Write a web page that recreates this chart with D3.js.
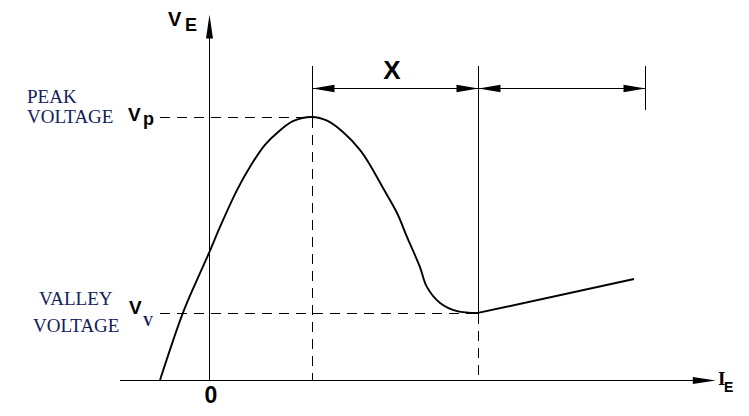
<!DOCTYPE html>
<html>
<head>
<meta charset="utf-8">
<script src="https://cdn.jsdelivr.net/npm/d3@7"></script>
<style>
  html, body { margin: 0; padding: 0; background: #fff; }
  svg { display: block; }
</style>
</head>
<body>
<svg id="chart" width="749" height="416"></svg>
<script>
// Emitter current (x) vs emitter voltage (y), arbitrary units.
// Valley current = 10, peak voltage = 10.
const curveIE = [-1.82, -0.97, -0.45, 0, 0.41, 1.04, 1.52, 2.08, 2.57, 3.12, 3.83,
  4.39, 4.98, 5.61, 5.99, 6.47, 6.99, 7.36, 7.84, 8.10, 8.59, 9.22, 10];
const curveVE = [0, 2.55, 3.80, 4.83, 5.82, 7.22, 8.10, 8.94, 9.43, 9.84, 10,
  9.86, 9.43, 8.75, 8.17, 7.30, 6.35, 5.44, 4.30, 3.54, 2.93, 2.62, 2.55];
const saturationIE = [10, 15.8];
const saturationVE = [2.55, 3.84];

const peak = { ie: 3.83, ve: 10 };
const valley = { ie: 10, ve: 2.55 };
const dimensionMarks = [3.83, 10, 16.2]; // ticks of the "X" dimension line
const dimensionLevel = 11.1;
const dimensionTop = 11.94;

const svg = d3.select('#chart');
const x = d3.scaleLinear().domain([0, 10]).range([209, 478]);
const y = d3.scaleLinear().domain([0, 10]).range([380, 117]);
const px = v => Math.round(x(v)) + 0.5;
const py = v => Math.round(y(v)) + 0.5;

const ink = '#000';
const navy = '#14205a';
const sans = "'Liberation Sans', Arial, sans-serif";
const serif = "'Liberation Serif', 'Times New Roman', serif";

// arrowhead helper: filled triangle pointing in direction (dx, dy)
const arrowHead = (tipX, tipY, dx, dy, len, half) => {
  const bx = tipX - dx * len, by = tipY - dy * len;
  const ox = -dy * half, oy = dx * half;
  svg.append('path')
    .attr('d', `M${tipX},${tipY}L${bx + ox},${by + oy}L${bx - ox},${by - oy}Z`)
    .attr('fill', ink);
};

const guide = (x1, y1, x2, y2, dashed, w = 1) => svg.append('line')
  .attr('x1', x1).attr('y1', y1).attr('x2', x2).attr('y2', y2)
  .attr('stroke', ink).attr('stroke-width', w)
  .attr('shape-rendering', 'crispEdges')
  .attr('stroke-dasharray', dashed ? '10,7' : null);

// axes
const xMin = x(-3.31), xMax = x(18.84);
const yTop = y(13.9);
guide(xMin, py(0), xMax - 4, py(0), false, 1.5);
arrowHead(xMax, py(0), 1, 0, 23, 3.5);
guide(px(0), py(0), px(0), yTop + 4, false, 1.5);
arrowHead(px(0), yTop, 0, -1, 24, 3.5);

// dashed guides
guide(x(-1.82), py(peak.ve), px(peak.ie), py(peak.ve), true);
guide(x(-1.82), py(valley.ve), px(valley.ie), py(valley.ve), true);
guide(px(peak.ie), py(peak.ve), px(peak.ie), py(0), true);
guide(px(valley.ie), py(valley.ve), px(valley.ie), py(0), true);

// dimension lines
guide(px(dimensionMarks[0]), y(dimensionTop), px(dimensionMarks[0]), py(peak.ve), false);
guide(px(dimensionMarks[1]), y(dimensionTop), px(dimensionMarks[1]), py(valley.ve), false);
guide(px(dimensionMarks[2]), y(dimensionTop), px(dimensionMarks[2]), y(10.27), false);
for (let i = 0; i < dimensionMarks.length - 1; i++) {
  const a = px(dimensionMarks[i]), b = px(dimensionMarks[i + 1]);
  guide(a, py(dimensionLevel), b, py(dimensionLevel), false);
  arrowHead(a, py(dimensionLevel), -1, 0, 22, 3.8);
  arrowHead(b, py(dimensionLevel), 1, 0, 22, 3.8);
}

// characteristic curve
const pts = curveIE.map((d, i) => [d, curveVE[i]]);
svg.append('path')
  .attr('d', d3.line().x(d => x(d[0])).y(d => y(d[1])).curve(d3.curveCatmullRom.alpha(0.5))(pts))
  .attr('fill', 'none').attr('stroke', ink).attr('stroke-width', 1.9);
const sat = saturationIE.map((d, i) => [d, saturationVE[i]]);
svg.append('path')
  .attr('d', d3.line().x(d => x(d[0])).y(d => y(d[1]))(sat))
  .attr('fill', 'none').attr('stroke', ink).attr('stroke-width', 1.9);

// labels
const text = (t, tx, ty, size, opts = {}) => svg.append('text')
  .attr('x', tx).attr('y', ty)
  .attr('font-family', opts.family || sans)
  .attr('font-size', size)
  .attr('font-weight', opts.weight || 'bold')
  .attr('text-anchor', opts.anchor || 'start')
  .attr('fill', opts.fill || ink)
  .text(t);

text('V', 168, 26, 20);
text('E', 185, 31, 18);
text('V', 128, 121, 19);
text('p', 143, 125, 18);
text('V', 129, 314, 19);
text('V', 143, 326, 14, { family: serif, weight: 'bold', fill: navy });
text('I', 718, 385, 19, { family: serif, weight: 'bold' });
text('E', 724, 392, 14);
text('X', 392, 79, 26, { anchor: 'middle' });
text('0', 211, 403, 23, { anchor: 'middle' });

const sideLabel = { family: serif, weight: 'normal', fill: navy };
text('PEAK', 27, 103, 19, sideLabel);
text('VOLTAGE', 27, 123, 19, sideLabel);
text('VALLEY', 39, 305, 19, sideLabel);
text('VOLTAGE', 33, 332, 19, sideLabel);
</script>
</body>
</html>
